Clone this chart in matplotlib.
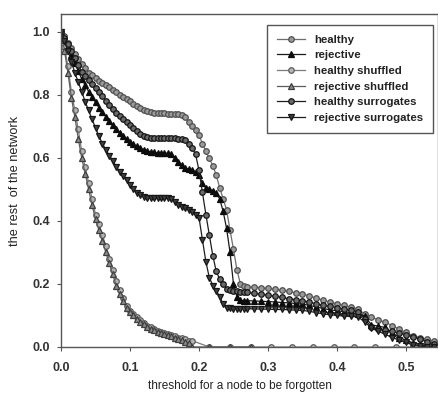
import numpy as np
import matplotlib
matplotlib.use("Agg")
import matplotlib.pyplot as plt

plt.rcParams['font.family'] = ['Liberation Sans', 'DejaVu Sans']

# shared threshold grid for the four main curves
x_main = np.round(np.concatenate([np.arange(0, 0.2701, 0.005), np.arange(0.28, 0.5401, 0.01)]), 3)

healthy = [1.0, 0.985, 0.965, 0.948, 0.93, 0.914, 0.898, 0.884, 0.87, 0.861,
           0.853, 0.845, 0.838, 0.83, 0.823, 0.815, 0.808, 0.8, 0.793, 0.786,
           0.779, 0.772, 0.765, 0.758, 0.752, 0.748, 0.745, 0.743, 0.742, 0.741,
           0.741, 0.74, 0.74, 0.739, 0.738, 0.737, 0.728, 0.715, 0.702, 0.688,
           0.672,
           0.645, 0.62, 0.598, 0.575, 0.545, 0.505, 0.47, 0.435, 0.37, 0.31,
           0.245, 0.2, 0.193, 0.19,
           0.19, 0.188, 0.186, 0.183, 0.18, 0.176, 0.172, 0.168, 0.162, 0.155,
           0.148, 0.142, 0.137, 0.132, 0.127, 0.121, 0.105, 0.095, 0.086, 0.078,
           0.068, 0.056, 0.046, 0.036, 0.03, 0.025, 0.02]

rejective = [1.0, 0.975, 0.95, 0.925, 0.9, 0.875, 0.85, 0.83, 0.81, 0.793,
             0.776, 0.759, 0.744, 0.73, 0.716, 0.703, 0.69, 0.679, 0.669, 0.66,
             0.651, 0.643, 0.636, 0.63, 0.626, 0.622, 0.619, 0.617, 0.616, 0.615,
             0.615, 0.614, 0.612, 0.6, 0.588, 0.577, 0.568, 0.564, 0.561, 0.556,
             0.545,
             0.52, 0.503, 0.5, 0.496, 0.488, 0.47, 0.43, 0.376, 0.3, 0.2,
             0.16, 0.148, 0.147, 0.147,
             0.146, 0.145, 0.144, 0.143, 0.141, 0.14, 0.138, 0.136, 0.132, 0.127,
             0.122, 0.118, 0.115, 0.112, 0.109, 0.106, 0.098, 0.07, 0.066, 0.062,
             0.045, 0.03, 0.022, 0.013, 0.008, 0.003, 0.0]

healthy_surr = [1.0, 0.98, 0.96, 0.94, 0.918, 0.895, 0.873, 0.86, 0.847, 0.834,
                0.821, 0.808, 0.795, 0.781, 0.768, 0.754, 0.742, 0.732, 0.722, 0.712,
                0.703, 0.694, 0.685, 0.677, 0.67, 0.666, 0.664, 0.663, 0.663, 0.663,
                0.663, 0.663, 0.662, 0.662, 0.661, 0.66, 0.655, 0.645, 0.63, 0.612,
                0.56,
                0.49, 0.42, 0.355, 0.29, 0.24, 0.215, 0.2, 0.185, 0.18, 0.177,
                0.176, 0.175, 0.174, 0.173,
                0.17, 0.167, 0.164, 0.161, 0.157, 0.153, 0.15, 0.147, 0.142, 0.137,
                0.132, 0.129, 0.125, 0.12, 0.116, 0.112, 0.09, 0.062, 0.058, 0.054,
                0.05, 0.045, 0.039, 0.032, 0.025, 0.017, 0.01]

rejective_surr = [1.0, 0.97, 0.94, 0.905, 0.87, 0.84, 0.81, 0.778, 0.75, 0.722,
                  0.695, 0.668, 0.645, 0.625, 0.607, 0.59, 0.572, 0.556, 0.541, 0.528,
                  0.514, 0.5, 0.488, 0.481, 0.476, 0.473, 0.472, 0.471, 0.471, 0.471,
                  0.471, 0.471, 0.468, 0.46, 0.45, 0.445, 0.44, 0.434, 0.428, 0.42,
                  0.41,
                  0.34, 0.27, 0.22, 0.195, 0.178, 0.16, 0.135, 0.123, 0.123, 0.122,
                  0.122, 0.122, 0.121, 0.121,
                  0.121, 0.12, 0.12, 0.119, 0.119, 0.118, 0.117, 0.116, 0.113, 0.109,
                  0.105, 0.102, 0.1, 0.098, 0.097, 0.096, 0.08, 0.06, 0.05, 0.04,
                  0.03, 0.022, 0.015, 0.006, 0.003, 0.0, 0.0]

# shuffled curves
x_hshuf = np.round(np.concatenate([np.arange(0, 0.1901, 0.005), np.arange(0.215, 0.516, 0.03)]), 3)
healthy_shuf = [1.0, 0.95, 0.89, 0.81, 0.75, 0.69, 0.62, 0.57, 0.52, 0.47,
                0.42, 0.39, 0.355, 0.32, 0.28, 0.245, 0.21, 0.18, 0.155, 0.13,
                0.115, 0.105, 0.095, 0.085, 0.075, 0.068, 0.062, 0.056, 0.052, 0.048,
                0.045, 0.041, 0.038, 0.034, 0.03, 0.027, 0.024, 0.02, 0.02,
                0.0, 0.0, 0.0, 0.0, 0.0, 0.0, 0.0, 0.0, 0.0, 0.0, 0.0]

x_rshuf = np.round(np.concatenate([np.arange(0, 0.1851, 0.005), [0.19, 0.215, 0.245, 0.275]]), 3)
rejective_shuf = [1.0, 0.94, 0.87, 0.79, 0.73, 0.66, 0.6, 0.55, 0.5, 0.45,
                  0.405, 0.37, 0.335, 0.3, 0.265, 0.23, 0.195, 0.168, 0.145, 0.125,
                  0.11, 0.1, 0.09, 0.08, 0.072, 0.064, 0.058, 0.053, 0.049, 0.045,
                  0.042, 0.038, 0.034, 0.03, 0.026, 0.022, 0.017, 0.012,
                  0.0, 0.0, 0.0, 0.0]

fig = plt.figure(figsize=(4.39, 3.94), dpi=100)
ax = fig.add_axes([0.139, 0.1193, 0.858, 0.8452])

ms = 4.0
mew = 0.9
lw = 0.9
series = [
    (x_main, healthy, 'healthy', dict(color='#6e6e6e', marker='o', mfc='#9a9a9a', mec='#505050')),
    (x_main, rejective, 'rejective', dict(color='#1a1a1a', marker='^', mfc='#0c0c0c', mec='#0c0c0c')),
    (x_hshuf, healthy_shuf, 'healthy shuffled', dict(color='#7a7a7a', marker='o', mfc='#b4b4b4', mec='#5e5e5e')),
    (x_rshuf, rejective_shuf, 'rejective shuffled', dict(color='#5e5e5e', marker='^', mfc='#8a8a8a', mec='#3e3e3e')),
    (x_main, healthy_surr, 'healthy surrogates', dict(color='#1e1e1e', marker='o', mfc='#6a6a6a', mec='#161616')),
    (x_main, rejective_surr, 'rejective surrogates', dict(color='#1e1e1e', marker='v', mfc='#404040', mec='#161616')),
]
for xs, ys, lab, st in series:
    ax.plot(xs, ys, label=lab, lw=lw, ms=ms, mew=mew, **st)

ax.set_xlim(0, 0.546)
ax.set_ylim(0, 1.056)
ax.set_xticks([0.0, 0.1, 0.2, 0.3, 0.4, 0.5])
ax.set_yticks([0.0, 0.2, 0.4, 0.6, 0.8, 1.0])
ax.set_xticklabels(['0.0', '0.1', '0.2', '0.3', '0.4', '0.5'])
ax.set_yticklabels(['0.0', '0.2', '0.4', '0.6', '0.8', '1.0'])
ax.tick_params(direction='out', length=3, width=0.8, colors='#555555', labelcolor='#333333', labelsize=9)
ax.tick_params(axis='x', pad=8)
ax.tick_params(axis='y', pad=5)
for lbl in ax.get_xticklabels() + ax.get_yticklabels():
    lbl.set_fontweight('bold')
for sp in ax.spines.values():
    sp.set_color('#555555')
    sp.set_linewidth(1.0)

ax.set_xlabel('threshold for a node to be forgotten', fontsize=8.5, color='#222222')
ax.xaxis.set_label_coords(0.476, -0.098)
ax.set_ylabel('the rest  of the network', fontsize=9.2, color='#222222', labelpad=8)

leg = ax.legend(loc='upper right', bbox_to_anchor=(0.987, 0.967),
                prop={'size': 8.2, 'weight': 'bold'}, frameon=True,
                fancybox=False, edgecolor='#555555', framealpha=1, handlelength=2.5,
                borderpad=0.85, labelspacing=0.5, handletextpad=0.75, borderaxespad=0)
leg.get_frame().set_linewidth(1.0)
for t in leg.get_texts():
    t.set_color('#222222')

fig.savefig('out.png', dpi=100)
